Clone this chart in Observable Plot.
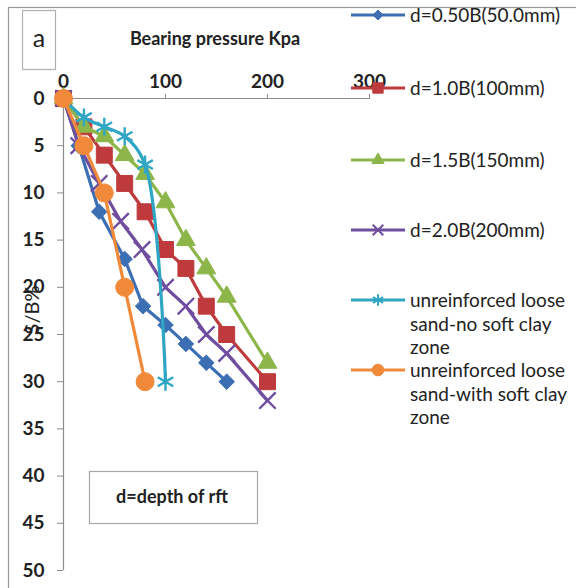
<!DOCTYPE html>
<html><head><meta charset="utf-8">
<script src="https://cdn.jsdelivr.net/npm/d3@7"></script>
<script src="https://cdn.jsdelivr.net/npm/@observablehq/plot@0.6"></script>
<style>
body{margin:0;background:#fff;}
#chart{width:576px;height:588px;overflow:hidden;}
#chart svg{overflow:hidden;}
</style></head><body><div id="chart"></div>
<script>
// ---- data ----
const seriesNames = ["d=0.50B(50.0mm)", "d=1.0B(100mm)", "d=1.5B(150mm)", "d=2.0B(200mm)",
  "unreinforced loose sand-no soft clay zone", "unreinforced loose sand-with soft clay zone"];
const legendLines = [["d=0.50B(50.0mm)"], ["d=1.0B(100mm)"], ["d=1.5B(150mm)"], ["d=2.0B(200mm)"],
  ["unreinforced loose", "sand-no soft clay", "zone"], ["unreinforced loose", "sand-with soft clay", "zone"]];
const pressure05 = [0, 15, 35, 60, 78, 100, 120, 140, 160];
const settle05   = [0, 5, 12, 17, 22, 24, 26, 28, 30];
const pressure10 = [0, 20, 40, 60, 80, 100, 120, 140, 160, 200];
const settle10   = [0, 3, 6, 9, 12, 16, 18, 22, 25, 30];
const pressure15 = [0, 20, 40, 60, 80, 100, 120, 140, 160, 200];
const settle15   = [0, 3, 4, 6, 8, 11, 15, 18, 21, 28];
const pressure20 = [0, 15, 35, 56, 77, 100, 120, 140, 160, 200];
const settle20   = [0, 5, 9, 13, 16, 20, 22, 25, 27, 32];
const pressureNoClay = [0, 20, 40, 60, 80, 100];
const settleNoClay   = [0, 2, 3, 4, 7, 30];
const pressureClay = [0, 20, 40, 60, 80];
const settleClay   = [0, 5, 10, 20, 30];
const xTicks = [0, 100, 200, 300];
const yTicks = [0, 5, 10, 15, 20, 25, 30, 35, 40, 45, 50];
const xTitle = "Bearing pressure Kpa";
const yTitle = "S/B%";
const panelLabel = "a";
const noteText = "d=depth of rft";

// ---- styling ----
const colors = ["#3C6EB4", "#BE3A3C", "#8DB64A", "#6F4D9F", "#2FA6C4", "#F08A3A"];
const symbols = ["diamond2", "square", "triangle", "times", "asterisk", "circle"];
const d3symbols = [d3.symbolDiamond2, d3.symbolSquare, d3.symbolTriangle, d3.symbolTimes, d3.symbolAsterisk, d3.symbolCircle];
const radii = [7, 9, 7, 7.5, 8.5, 9];
const filled = [true, true, true, false, false, true];
const curves = ["linear", "linear", "linear", "linear", "catmull-rom", "linear"];
const FONT = "Lato, 'Open Sans', sans-serif";

const toRows = (xs, ys) => xs.map((x, i) => ({x, y: ys[i]}));
const allData = [
  toRows(pressure05, settle05), toRows(pressure10, settle10), toRows(pressure15, settle15),
  toRows(pressure20, settle20), toRows(pressureNoClay, settleNoClay), toRows(pressureClay, settleClay)
];

const marks = [
  Plot.ruleY([0], {stroke: "#8c8c8c", strokeWidth: 1.2}),
  Plot.ruleX([0], {stroke: "#8c8c8c", strokeWidth: 1.2}),
  Plot.axisX(xTicks, {anchor: "top", tickSize: 5, tickPadding: 6, stroke: "#8c8c8c", fontSize: 19, fontWeight: "bold", fill: "#222", label: null}),
  Plot.axisY(yTicks, {anchor: "left", tickSize: 6, tickPadding: 13, stroke: "#8c8c8c", fontSize: 19, fontWeight: "bold", fill: "#222", label: null})
];
allData.forEach((d, i) => {
  marks.push(Plot.line(d, {x: "x", y: "y", stroke: colors[i], strokeWidth: 3.2, curve: curves[i]}));
  marks.push(Plot.dot(d, {x: "x", y: "y", symbol: symbols[i], r: radii[i],
    fill: filled[i] ? colors[i] : "none", stroke: colors[i], strokeWidth: filled[i] ? 1 : 2.4}));
});

const chart = Plot.plot({
  width: 576, height: 588,
  marginLeft: 63, marginRight: 207, marginTop: 98, marginBottom: 18,
  x: {domain: [0, 300]},
  y: {domain: [0, 50], reverse: true},
  style: {fontFamily: FONT, background: "white", color: "#222"},
  marks
});
document.getElementById("chart").appendChild(chart);

// ---- annotations (frame, titles, boxes, legend) ----
const svg = d3.select(chart);
svg.insert("rect", ":first-child").attr("x", 8.5).attr("y", 7.5).attr("width", 700).attr("height", 700)
  .attr("fill", "none").attr("stroke", "#9a9a9a").attr("stroke-width", 1.2);

svg.append("rect").attr("x", 22.5).attr("y", 10.5).attr("width", 33).attr("height", 59)
  .attr("fill", "white").attr("stroke", "#b0b0b0").attr("stroke-width", 1.2);
svg.append("text").attr("x", 39).attr("y", 47).attr("text-anchor", "middle")
  .attr("font-family", FONT).attr("font-size", 25).attr("fill", "#222").text(panelLabel);

svg.append("text").attr("x", 215).attr("y", 45).attr("text-anchor", "middle")
  .attr("font-family", FONT).attr("font-size", 18).attr("font-weight", "bold").attr("fill", "#222").text(xTitle);

svg.append("text").attr("transform", "translate(39,310) rotate(-90)").attr("text-anchor", "middle")
  .attr("font-family", FONT).attr("font-size", 20).attr("fill", "#222").text(yTitle);

svg.append("rect").attr("x", 89.5).attr("y", 471.5).attr("width", 168).attr("height", 52)
  .attr("fill", "white").attr("stroke", "#a8a8a8").attr("stroke-width", 1.2);
svg.append("text").attr("x", 172).attr("y", 503).attr("text-anchor", "middle")
  .attr("font-family", FONT).attr("font-size", 18).attr("font-weight", "bold").attr("fill", "#222").text(noteText);

const legendY = [15, 88, 160, 230, 300, 370];
const lineGap = 23.5;
legendLines.forEach((lines, i) => {
  const g = svg.append("g").attr("transform", `translate(0,${legendY[i]})`);
  g.append("line").attr("x1", 351).attr("x2", 405).attr("y1", 0).attr("y2", 0)
    .attr("stroke", colors[i]).attr("stroke-width", 3.2);
  g.append("path").attr("transform", "translate(378,0)")
    .attr("d", d3.symbol(d3symbols[i], Math.PI * (radii[i] * 0.65) ** 2)())
    .attr("fill", filled[i] ? colors[i] : "none").attr("stroke", colors[i]).attr("stroke-width", filled[i] ? 1 : 2);
  lines.forEach((t, j) => {
    g.append("text").attr("x", 410).attr("y", j * lineGap + 7).attr("text-anchor", "start")
      .attr("font-family", FONT).attr("font-size", 19).attr("fill", "#222").text(t);
  });
});
</script>
</body></html>
